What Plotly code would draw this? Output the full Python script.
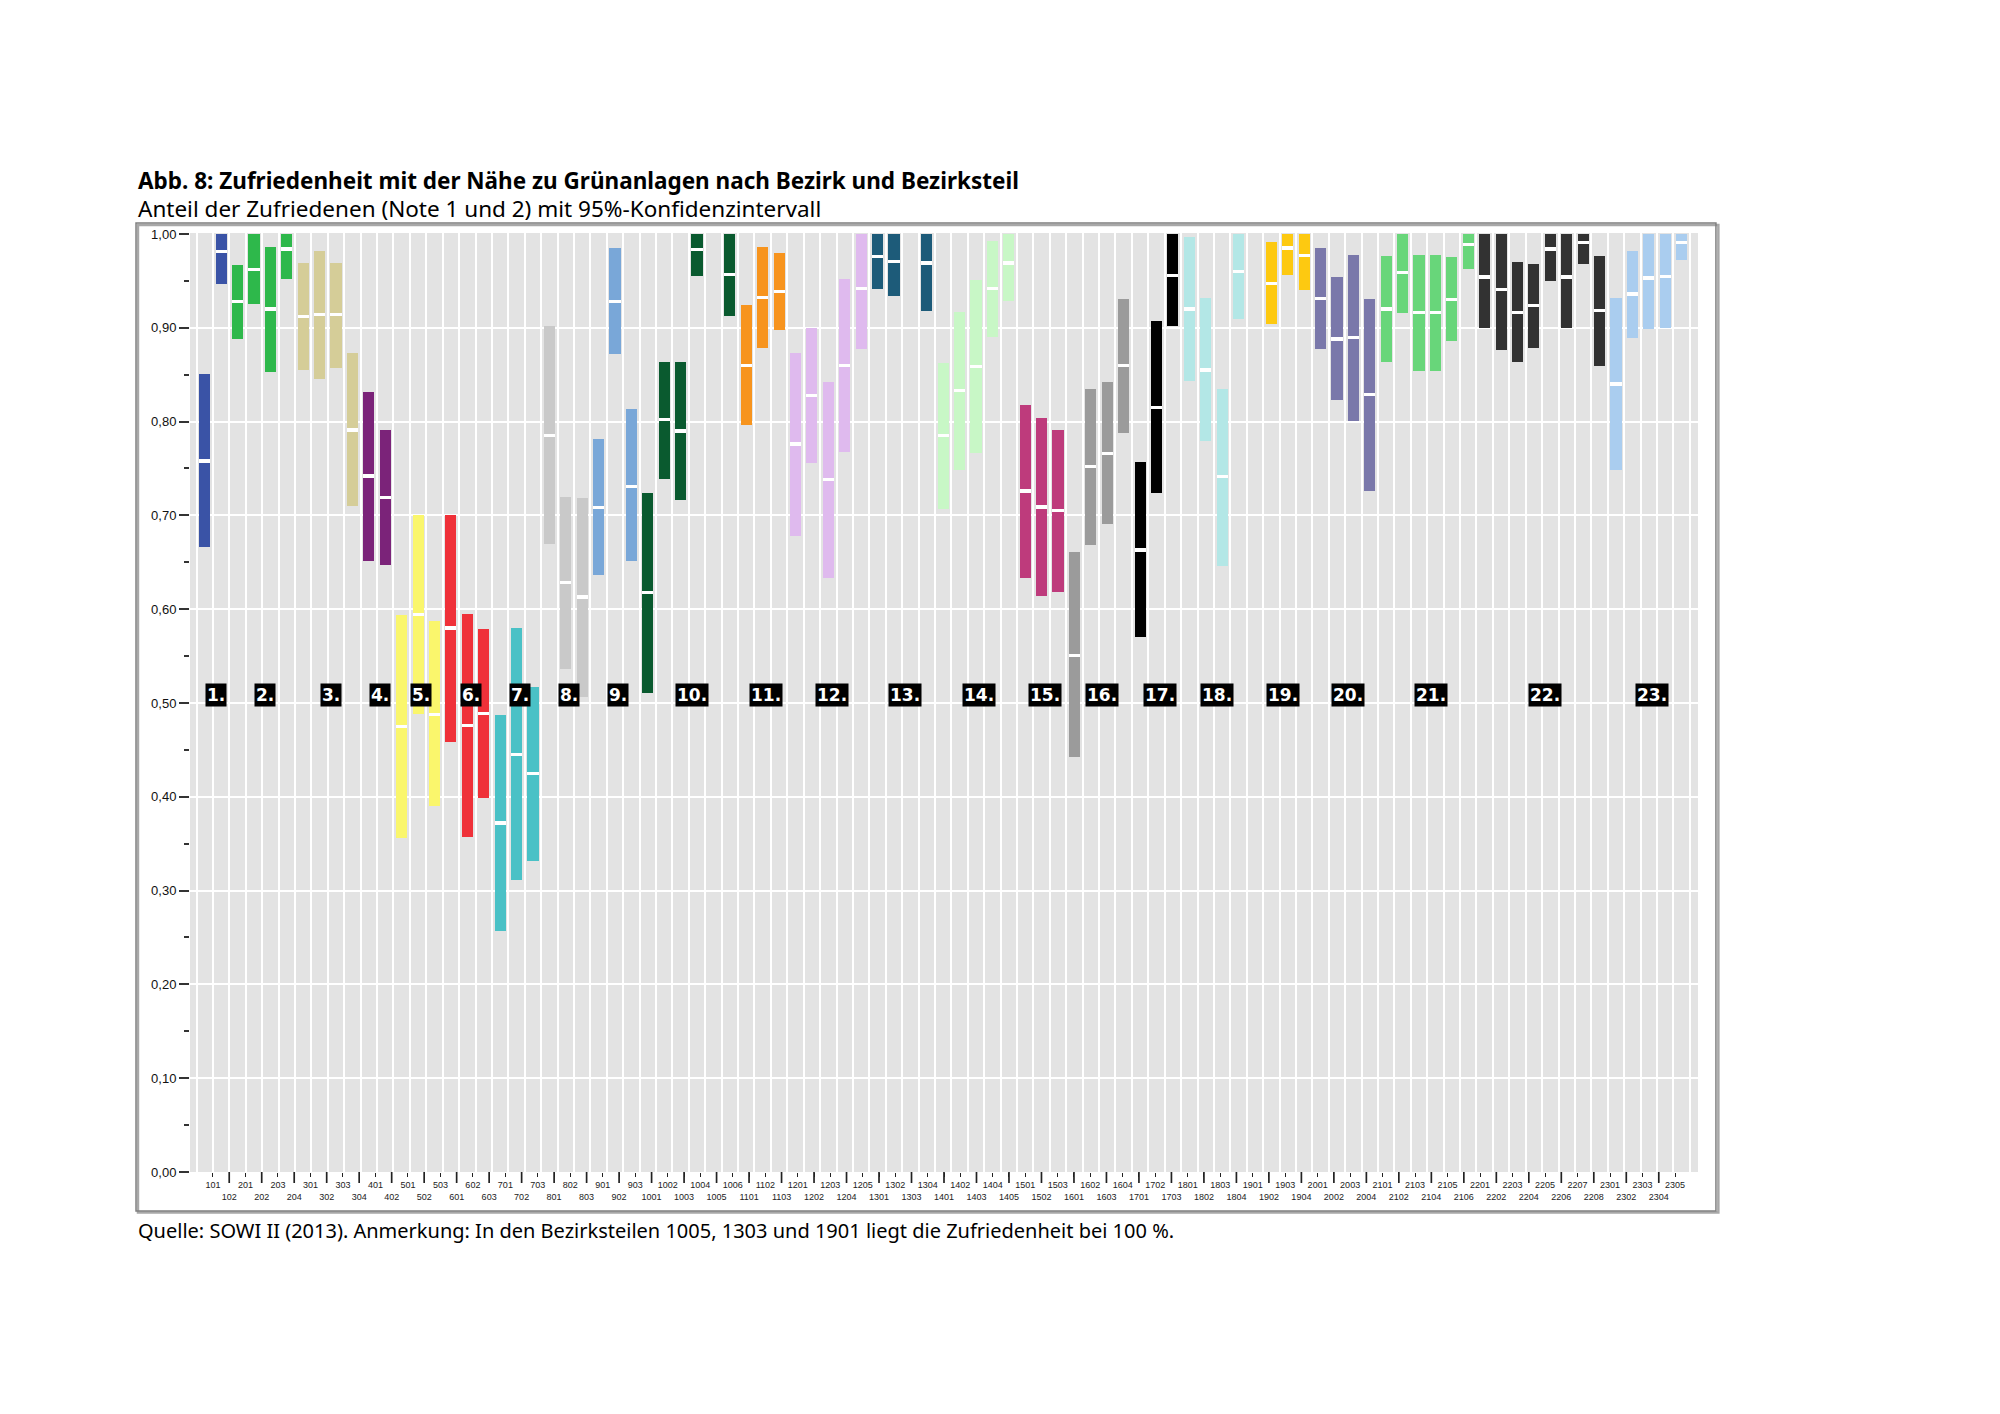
import plotly.graph_objects as go

# ---------------- data ----------------
categories = [101, 102, 201, 202, 203, 204, 301, 302, 303, 304, 401, 402,
              501, 502, 503, 601, 602, 603, 701, 702, 703, 801, 802, 803,
              901, 902, 903, 1001, 1002, 1003, 1004, 1005, 1006,
              1101, 1102, 1103, 1201, 1202, 1203, 1204, 1205,
              1301, 1302, 1303, 1304, 1401, 1402, 1403, 1404, 1405,
              1501, 1502, 1503, 1601, 1602, 1603, 1604, 1701, 1702, 1703,
              1801, 1802, 1803, 1804, 1901, 1902, 1903, 1904,
              2001, 2002, 2003, 2004, 2101, 2102, 2103, 2104, 2105, 2106,
              2201, 2202, 2203, 2204, 2205, 2206, 2207, 2208,
              2301, 2302, 2303, 2304, 2305]

lower = [0.666, 0.947, 0.888, 0.925, 0.853, 0.952, 0.855, 0.845, 0.857, 0.710, 0.651, 0.647,
         0.356, 0.488, 0.390, 0.458, 0.357, 0.399, 0.257, 0.311, 0.332, 0.670, 0.536, 0.506,
         0.636, 0.872, 0.651, 0.511, 0.739, 0.716, 0.955, None, 0.913,
         0.796, 0.878, 0.898, 0.678, 0.756, 0.633, 0.768, 0.877,
         0.941, 0.934, None, 0.918, 0.707, 0.748, 0.766, 0.890, 0.928,
         0.633, 0.614, 0.618, 0.442, 0.668, 0.691, 0.788, 0.570, 0.724, 0.902,
         0.843, 0.779, 0.646, 0.909, None, 0.904, 0.956, 0.940,
         0.877, 0.823, 0.801, 0.726, 0.863, 0.916, 0.854, 0.854, 0.886, 0.963,
         0.900, 0.876, 0.863, 0.878, 0.950, 0.900, 0.968, 0.859,
         0.748, 0.889, 0.899, 0.900, 0.972]

median = [0.758, 0.981, 0.928, 0.962, 0.920, 0.984, 0.912, 0.914, 0.914, 0.791, 0.742, 0.719,
          0.475, 0.594, 0.488, 0.580, 0.476, 0.489, 0.372, 0.445, 0.425, 0.785, 0.628, 0.613,
          0.708, 0.928, 0.731, 0.618, 0.802, 0.790, 0.983, None, 0.957,
          0.860, 0.932, 0.939, 0.776, 0.828, 0.738, 0.860, 0.942,
          0.976, 0.971, None, 0.969, 0.785, 0.833, 0.859, 0.942, 0.969,
          0.726, 0.709, 0.705, 0.551, 0.752, 0.766, 0.860, 0.663, 0.815, 0.956,
          0.920, 0.855, 0.741, 0.960, None, 0.947, 0.985, 0.977,
          0.931, 0.888, 0.890, 0.829, 0.920, 0.959, 0.916, 0.916, 0.930, 0.989,
          0.954, 0.941, 0.916, 0.924, 0.984, 0.954, 0.991, 0.918,
          0.840, 0.936, 0.953, 0.955, 0.991]

upper = [0.851, 1.000, 0.967, 1.000, 0.986, 1.000, 0.969, 0.982, 0.969, 0.873, 0.832, 0.791,
         0.594, 0.700, 0.587, 0.700, 0.595, 0.579, 0.487, 0.580, 0.517, 0.902, 0.720, 0.718,
         0.781, 0.985, 0.813, 0.724, 0.864, 0.863, 1.000, None, 1.000,
         0.924, 0.986, 0.980, 0.873, 0.900, 0.842, 0.952, 1.000,
         1.000, 1.000, None, 1.000, 0.862, 0.917, 0.951, 0.993, 1.000,
         0.818, 0.804, 0.791, 0.661, 0.835, 0.842, 0.931, 0.757, 0.907, 1.000,
         0.997, 0.932, 0.835, 1.000, None, 0.991, 1.000, 1.000,
         0.985, 0.954, 0.978, 0.931, 0.977, 1.000, 0.978, 0.978, 0.975, 1.000,
         1.000, 1.000, 0.970, 0.968, 1.000, 1.000, 1.000, 0.977,
         0.932, 0.982, 1.000, 1.000, 1.000]

district_colors = ["#3A53A6", "#2EB84B", "#D5CD98", "#7B2379", "#FAF66C",
                   "#EF3139", "#4AC1C6", "#C9C9C9", "#79A7D8", "#0A5A2F",
                   "#F7941E", "#DFBAEE", "#1D5B79", "#C8F7C6", "#BE3B7C",
                   "#9B9B9B", "#000000", "#B3E7E6", "#FDC911", "#7A78AA",
                   "#68D67A", "#323232", "#AACDEF"]

district_labels = ["1.", "2.", "3.", "4.", "5.", "6.", "7.", "8.", "9.", "10.",
                   "11.", "12.", "13.", "14.", "15.", "16.", "17.", "18.", "19.",
                   "20.", "21.", "22.", "23."]

title_text = "Abb. 8: Zufriedenheit mit der Nähe zu Grünanlagen nach Bezirk und Bezirksteil"
subtitle_text = "Anteil der Zufriedenen (Note 1 und 2) mit 95%-Konfidenzintervall"
source_text = ("Quelle: SOWI II (2013). Anmerkung: In den Bezirksteilen 1005, 1303 und 1901 "
               "liegt die Zufriedenheit bei 100 %.")

# ---------------- derived ----------------
n = len(categories)
x_idx = list(range(n))
district = [c // 100 for c in categories]
colors = [district_colors[d - 1] for d in district]
valid = [i for i in x_idx if lower[i] is not None]

BAR_W = 0.68
MED_H = 0.0034

fig = go.Figure()
fig.add_trace(go.Bar(
    x=valid,
    base=[lower[i] for i in valid],
    y=[upper[i] - lower[i] for i in valid],
    width=BAR_W,
    marker=dict(color=[colors[i] for i in valid], line=dict(width=0)),
    hoverinfo="skip", showlegend=False))
fig.add_trace(go.Bar(
    x=valid,
    base=[median[i] - MED_H / 2 for i in valid],
    y=[MED_H for _ in valid],
    width=BAR_W,
    marker=dict(color="white", line=dict(width=0)),
    hoverinfo="skip", showlegend=False))

# in the original the category axis is drawn on a slightly narrower scale than the bars
tick_pos = [0.5 + i * (1 - 0.9 / (n - 1)) for i in x_idx]
ticktext = [str(c) if i % 2 == 0 else "<br>" + str(c) for i, c in enumerate(categories)]

shapes = []
# long ticks for the lower label row
for i in x_idx:
    if i % 2 == 1:
        shapes.append(dict(type="line", xref="x", yref="paper", x0=tick_pos[i], x1=tick_pos[i],
                           y0=0, y1=-0.0117, line=dict(color="#222222", width=1.7)))
# outer frame
shapes.append(dict(type="rect", xref="paper", yref="paper",
                   x0=-0.0345, x1=1.0135, y0=-0.043, y1=1.0085,
                   line=dict(color="#A8A8A8", width=2.5)))
shapes.append(dict(type="rect", xref="paper", yref="paper",
                   x0=-0.0358, x1=1.0119, y0=-0.0415, y1=1.0106,
                   line=dict(color="#7F7F7F", width=1.5)))

annotations = []
for d in range(1, len(district_labels) + 1):
    idxs = [i for i in x_idx if district[i] == d]
    cx = sum(idxs) / len(idxs) + 0.2
    annotations.append(dict(x=cx, y=0.509, xref="x", yref="y",
                            text="<b>" + district_labels[d - 1] + "</b>",
                            showarrow=False, bgcolor="black", borderpad=1,
                            font=dict(family="DejaVu Sans", size=17, color="white")))

annotations.append(dict(x=-0.0358, y=1.0554, xref="paper", yref="paper",
                        xanchor="left", yanchor="middle", showarrow=False,
                        text="<b>" + title_text + "</b>",
                        font=dict(family="Noto Sans", size=22.5, color="black")))
annotations.append(dict(x=-0.0358, y=1.0256, xref="paper", yref="paper",
                        xanchor="left", yanchor="middle", showarrow=False,
                        text=subtitle_text,
                        font=dict(family="Noto Sans", size=22.5, color="black")))
annotations.append(dict(x=-0.0358, y=-0.0628, xref="paper", yref="paper",
                        xanchor="left", yanchor="middle", showarrow=False,
                        text=source_text,
                        font=dict(family="Noto Sans", size=20, color="black")))

# the page body adds an 8 px offset; compensate in the margins
OFF = 8
fig.update_layout(
    width=2000, height=1414,
    margin=dict(l=190 - OFF, r=302 + OFF, t=233 - OFF, b=242 + OFF),
    paper_bgcolor="white", plot_bgcolor="#E3E3E3",
    barmode="overlay", bargap=0,
    separators=",.",
    shapes=shapes, annotations=annotations,
    xaxis=dict(range=[-0.9, 91.0], tickmode="array", tickvals=tick_pos, ticktext=ticktext,
               tickangle=0,
               tickfont=dict(family="Liberation Sans", size=9, color="#222222"),
               ticks="outside", ticklen=4, tickwidth=1.2, tickcolor="#222222",
               showgrid=False, zeroline=False, showline=False,
               minor=dict(tick0=0.5, dtick=1, showgrid=True, gridcolor="white",
                          gridwidth=2, ticks="")),
    yaxis=dict(range=[0, 1.001], tickmode="array",
               tickvals=[k / 10 for k in range(11)], tickformat=".2f",
               tickfont=dict(family="Liberation Sans", size=13, color="#111111"),
               ticks="outside", ticklen=10, tickwidth=2, tickcolor="#333333",
               showgrid=True, gridcolor="white", gridwidth=2,
               zeroline=False, showline=False,
               minor=dict(dtick=0.05, ticks="outside", ticklen=5, tickwidth=1.5,
                          tickcolor="#333333", showgrid=False)),
)

fig.write_html("out.html")
